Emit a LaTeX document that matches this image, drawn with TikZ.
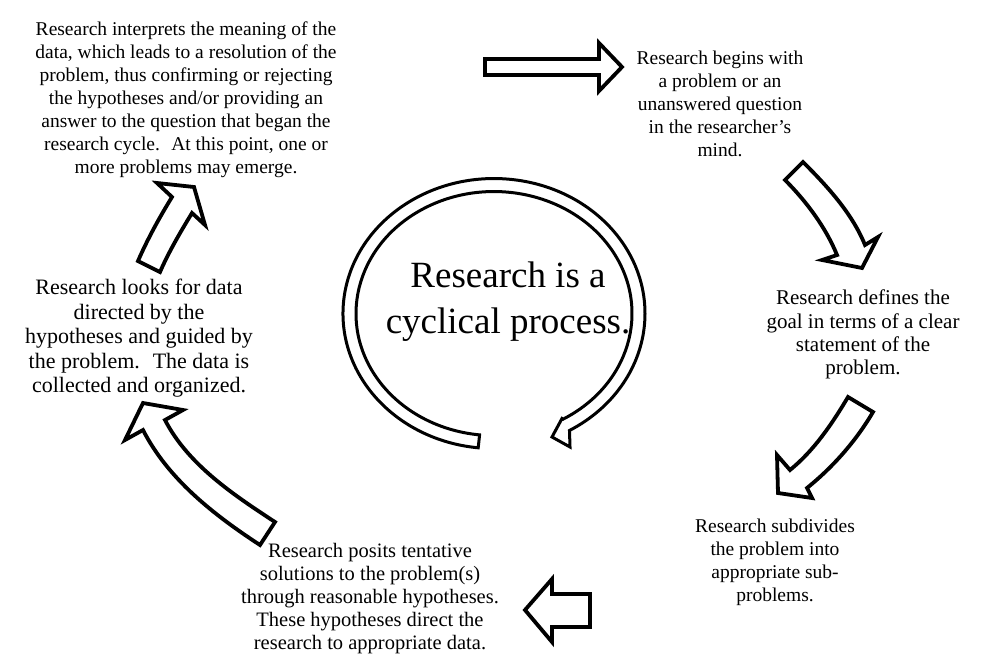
\documentclass[tikz,border=0pt]{standalone}
\usepackage{fontspec}
\setmainfont{Liberation Serif}
\begin{document}
\begin{tikzpicture}[x=1pt,y=-1pt]
\tikzset{
  txt/.style={align=center, inner sep=0pt, font=\fontsize{19.5}{23}\selectfont},
  txtc/.style={align=center, inner sep=0pt, font=\fontsize{21}{23.3}\selectfont},
  txte/.style={align=center, inner sep=0pt, font=\fontsize{20.5}{23}\selectfont},
  txtf/.style={align=center, inner sep=0pt, font=\fontsize{22}{24.5}\selectfont},
  bigtxt/.style={align=center, inner sep=0pt, font=\fontsize{37}{46}\selectfont},
  blk/.style={draw=black, line width=3.8pt, fill=white, line join=miter, miter limit=10},
  ring/.style={draw=black, line width=3pt, fill=white, line join=miter, miter limit=10},
}
\useasboundingbox (0,0) rectangle (982,664);

% text blocks
\node[txt] (A) at (186,100) {\strut Research interprets the meaning of the\\
data, which leads to a resolution of the\\
problem, thus confirming or rejecting\\
the hypotheses and/or providing an\\
answer to the question that began the\\
research cycle.~ At this point, one or\\
more problems may emerge.\strut};
\node[txt] (B) at (720,106) {\strut Research begins with\\
a problem or an\\
unanswered question\\
in the researcher's\\
mind.\strut};
\node[txtc] (C) at (863,335) {\strut Research defines the\\
goal in terms of a clear\\
statement of the\\
problem.\strut};
\node[txt] (D) at (775,562) {\strut Research subdivides\\
the problem into\\
appropriate sub-\\
problems.\strut};
\node[txte] (E) at (370,599) {\strut Research posits tentative\\
solutions to the problem(s)\\
through reasonable hypotheses.\\
These hypotheses direct the\\
research to appropriate data.\strut};
\node[txtf] (F) at (139,339) {\strut Research looks for data\\
directed by the\\
hypotheses and guided by\\
the problem.~ The data is\\
collected and organized.\strut};
\node[bigtxt] (M) at (508,301) {\strut Research is a\\ cyclical process.\strut};

% block arrows
\draw[blk] (485,59) -- (599,59) -- (599,43) -- (622,67) -- (599,91) -- (599,75) -- (485,75) -- cycle;
\draw[blk] (785,180) .. controls (806,201) and (825.6,227) .. (837,255) -- (822,260) -- (862,268) -- (878,237) -- (865,245) .. controls (852,213) and (827,186) .. (803,162) -- cycle;
\draw[blk] (848,397) .. controls (832,424) and (814,450.5) .. (790,470) -- (777,455) -- (778,493) -- (812,498) -- (807,488) .. controls (833,467) and (856,441) .. (873,412) -- cycle;
\draw[blk] (590,594) -- (552,594) -- (552,579) -- (525,610) -- (552,642) -- (552,627) -- (590,627) -- cycle;
\draw[blk] (275,522) .. controls (233,494.5) and (188,464.5) .. (165,420) -- (183,410) -- (143,403) -- (125,440) -- (143,430) .. controls (168,479) and (214,515) .. (260,545) -- cycle;
\draw[blk] (160,272) .. controls (168.8,251.8) and (180.6,231.7) .. (192,213) -- (205,225) -- (194,187) -- (157,183) -- (172,197) .. controls (159.5,217.4) and (147.6,238.9) .. (138,261) -- cycle;

% central circular arrow
\draw[ring] (478.2,447.8) arc[start angle=96, end angle=420, x radius=151, y radius=135]
  -- (570,447) -- (552,437) -- (562,418.5) -- (563,419.2)
  arc[start angle=420, end angle=96, x radius=138, y radius=122] -- cycle;
\end{tikzpicture}
\end{document}
